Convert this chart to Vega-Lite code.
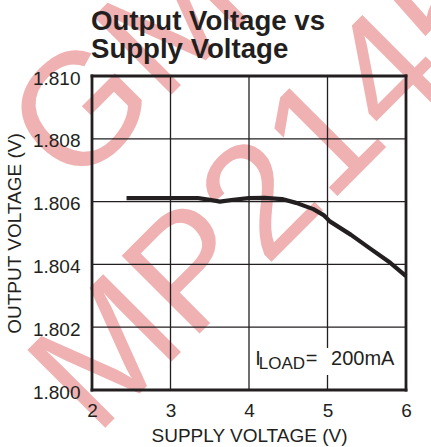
{
  "$schema": "https://vega.github.io/schema/vega-lite/v6.json",
  "width": 314,
  "height": 314,
  "autosize": {"type": "none"},
  "padding": {"left": 92, "top": 76, "right": 25, "bottom": 57},
  "background": "white",
  "config": {
    "view": {"stroke": null},
    "axis": {
      "grid": false, "ticks": false, "domain": false,
      "labelFont": "Liberation Sans", "labelFontSize": 19, "labelColor": "#231f20",
      "titleFont": "Liberation Sans", "titleFontSize": 19, "titleFontWeight": "normal", "titleColor": "#231f20",
      "labelFlush": false, "labelOverlap": false
    }
  },
  "datasets": {
    "curve": [
      {"x": 2.44, "y": 1.80611},
      {"x": 3.0, "y": 1.80611},
      {"x": 3.35, "y": 1.80611},
      {"x": 3.5, "y": 1.80606},
      {"x": 3.63, "y": 1.806},
      {"x": 3.8, "y": 1.80606},
      {"x": 4.0, "y": 1.80611},
      {"x": 4.2, "y": 1.80612},
      {"x": 4.42, "y": 1.80608},
      {"x": 4.6, "y": 1.80596},
      {"x": 4.82, "y": 1.80576},
      {"x": 4.95, "y": 1.80557},
      {"x": 5.03, "y": 1.80537},
      {"x": 5.3, "y": 1.80494},
      {"x": 5.54, "y": 1.80451},
      {"x": 5.8, "y": 1.80405},
      {"x": 6.0, "y": 1.80363}
    ],
    "watermark": [
      {"x": 2.051, "y": 1.7985, "label": "MP2145"},
      {"x": 1.774, "y": 1.80631, "label": "GMC"}
    ],
    "heading": [
      {"x": 1.987, "y": 1.811465, "label": "Output Voltage vs"},
      {"x": 1.987, "y": 1.810564, "label": "Supply Voltage"}
    ],
    "xgrid": [{"x": 3}, {"x": 4}, {"x": 5}],
    "ygrid": [{"y": 1.802}, {"y": 1.804}, {"y": 1.806}, {"y": 1.808}],
    "xborder": [{"x": 2}, {"x": 6}],
    "yborder": [{"y": 1.8}, {"y": 1.81}],
    "box": [{"x": 4.08, "x2": 5.9, "y": 1.80048, "y2": 1.80134}],
    "note": [
      {"x": 4.081, "y": 1.800796, "label": "I", "size": 20},
      {"x": 4.124, "y": 1.800669, "label": "LOAD", "size": 17},
      {"x": 4.722, "y": 1.800796, "label": "=", "size": 20},
      {"x": 5.045, "y": 1.800796, "label": "200mA", "size": 20}
    ]
  },
  "layer": [
    {
      "data": {"name": "watermark"},
      "mark": {"type": "text", "font": "Liberation Sans", "fontSize": 160, "color": "#efb1b1", "angle": -45, "align": "left", "baseline": "alphabetic", "clip": false},
      "encoding": {
        "x": {"field": "x", "type": "quantitative", "scale": {"domain": [2, 6], "nice": false, "zero": false}},
        "y": {"field": "y", "type": "quantitative", "scale": {"domain": [1.8, 1.81], "nice": false, "zero": false}},
        "text": {"field": "label"}
      }
    },
    {
      "data": {"name": "heading"},
      "mark": {"type": "text", "font": "Liberation Sans", "fontSize": 27.6, "fontWeight": "bold", "color": "#231f20", "align": "left", "baseline": "alphabetic", "clip": false},
      "encoding": {
        "x": {"field": "x", "type": "quantitative"},
        "y": {"field": "y", "type": "quantitative"},
        "text": {"field": "label"}
      }
    },
    {
      "data": {"name": "xgrid"},
      "mark": {"type": "rule", "color": "#231f20", "strokeWidth": 1.3},
      "encoding": {
        "x": {"field": "x", "type": "quantitative"}
      }
    },
    {
      "data": {"name": "ygrid"},
      "mark": {"type": "rule", "color": "#231f20", "strokeWidth": 1.3},
      "encoding": {
        "y": {"field": "y", "type": "quantitative"}
      }
    },
    {
      "data": {"name": "box"},
      "mark": {"type": "rect", "color": "white"},
      "encoding": {
        "x": {"field": "x", "type": "quantitative"},
        "x2": {"field": "x2"},
        "y": {"field": "y", "type": "quantitative"},
        "y2": {"field": "y2"}
      }
    },
    {
      "data": {"name": "xborder"},
      "mark": {"type": "rule", "color": "#231f20", "strokeWidth": 2.8, "strokeCap": "square"},
      "encoding": {
        "x": {"field": "x", "type": "quantitative"}
      }
    },
    {
      "data": {"name": "yborder"},
      "mark": {"type": "rule", "color": "#231f20", "strokeWidth": 2.8, "strokeCap": "square"},
      "encoding": {
        "y": {"field": "y", "type": "quantitative"}
      }
    },
    {
      "data": {"name": "curve"},
      "mark": {"type": "line", "color": "#231f20", "strokeWidth": 4.2, "strokeJoin": "round"},
      "encoding": {
        "x": {
          "field": "x", "type": "quantitative",
          "axis": {
            "values": [2, 3, 4, 5, 6],
            "format": "d",
            "title": "SUPPLY VOLTAGE (V)",
            "labelPadding": 11,
            "titlePadding": 6,
            "zindex": 1
          }
        },
        "y": {
          "field": "y", "type": "quantitative",
          "axis": {
            "values": [1.8, 1.802, 1.804, 1.806, 1.808, 1.81],
            "format": ".3f",
            "title": "OUTPUT VOLTAGE (V)",
            "labelPadding": 12, "labelOffset": 2,
            "titlePadding": 8,
            "zindex": 1
          }
        }
      }
    },
    {
      "data": {"name": "note"},
      "mark": {"type": "text", "font": "Liberation Sans", "color": "#231f20", "align": "left", "baseline": "alphabetic"},
      "encoding": {
        "x": {"field": "x", "type": "quantitative"},
        "y": {"field": "y", "type": "quantitative"},
        "text": {"field": "label"},
        "size": {"field": "size", "type": "quantitative", "scale": null}
      }
    }
  ]
}
